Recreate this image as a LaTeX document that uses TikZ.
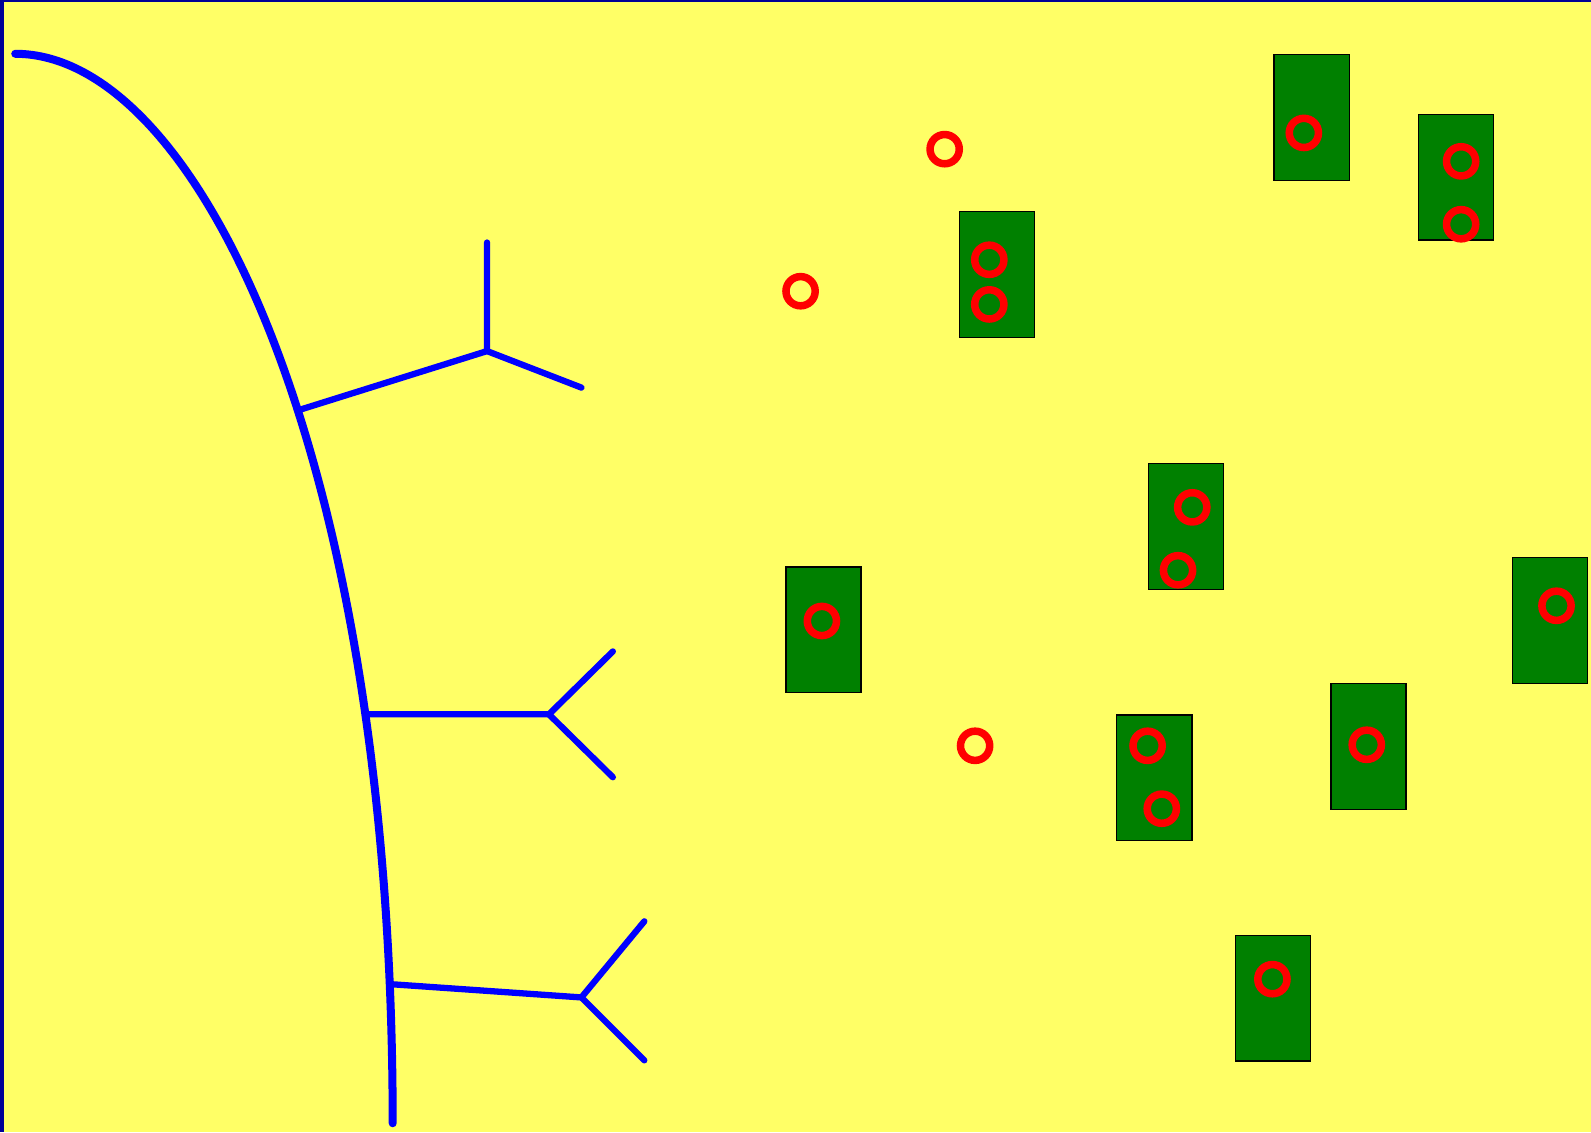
\documentclass[tikz,border=0pt]{standalone}
\definecolor{paper}{RGB}{255,255,102}
\definecolor{frameblue}{RGB}{0,0,150}
\definecolor{leafgreen}{RGB}{0,128,0}
\definecolor{ringred}{RGB}{255,0,0}
\definecolor{stemblue}{RGB}{0,0,255}
\tikzset{
  trunk/.style={draw=stemblue, line width=7.9pt, line cap=round},
  twig/.style={draw=stemblue, line width=6.2pt, line cap=round, line join=miter},
  plot/.style={rectangle, draw=black, line width=1.3pt, fill=leafgreen,
    minimum width=74pt, minimum height=124pt, inner sep=0pt, anchor=north west},
  ring/.style={circle, draw=ringred, line width=7.4pt, minimum size=28.8pt, inner sep=0pt}
}
\begin{document}
\begin{tikzpicture}[x=1pt, y=-1pt]
  % canvas and frame edges
  \useasboundingbox (0,0) rectangle (1568,1116);
  \fill[paper] (0,0) rectangle (1568,1116);
  \fill[frameblue] (0,0) rectangle (4,1116);
  \fill[frameblue] (0,0) rectangle (1568,2);

  % main stem
  \coordinate (top) at (15,53);
  \coordinate (base) at (387,1107);
  \draw[trunk] (top) .. controls (195,53) and (387,450) .. (base);

  % first branch
  \coordinate (a0) at (295,404);
  \coordinate (a1) at (480,346);
  \coordinate (a2) at (480,239);
  \coordinate (a3) at (573,382);
  \draw[twig] (a0) -- (a1) -- (a2);
  \draw[twig] (a1) -- (a3);

  % second branch
  \coordinate (b0) at (362,704);
  \coordinate (b1) at (541,704);
  \coordinate (b2) at (604,642);
  \coordinate (b3) at (604,766);
  \draw[twig] (b0) -- (b1) -- (b2);
  \draw[twig] (b1) -- (b3);

  % third branch
  \coordinate (c0) at (386,970);
  \coordinate (c1) at (573,983);
  \coordinate (c2) at (635,908);
  \coordinate (c3) at (635,1045);
  \draw[twig] (c0) -- (c1) -- (c2);
  \draw[twig] (c1) -- (c3);

  % green plots
  \node[plot] (p1) at (1255,53) {};
  \node[plot] (p2) at (1397,112) {};
  \node[plot] (p3) at (945,208) {};
  \node[plot] (p4) at (1131,456) {};
  \node[plot] (p5) at (774,558) {};
  \node[plot] (p6) at (1490,549) {};
  \node[plot] (p7) at (1100,704) {};
  \node[plot] (p8) at (1311,673) {};
  \node[plot] (p9) at (1217,921) {};

  % red rings
  \node[ring] (r1)  at (1285,131) {};
  \node[ring] (r2)  at (1440,159) {};
  \node[ring] (r3)  at (1440,221) {};
  \node[ring] (r4)  at (975,256) {};
  \node[ring] (r5)  at (975,300) {};
  \node[ring] (r6)  at (1175,500) {};
  \node[ring] (r7)  at (1161,562) {};
  \node[ring] (r8)  at (810,612) {};
  \node[ring] (r9)  at (1534,597) {};
  \node[ring] (r10) at (1131,735) {};
  \node[ring] (r11) at (1145,797) {};
  \node[ring] (r12) at (1347,734) {};
  \node[ring] (r13) at (1254,965) {};
  \node[ring] (r14) at (931,147) {};
  \node[ring] (r15) at (789,287) {};
  \node[ring] (r16) at (961,735) {};
\end{tikzpicture}
\end{document}
